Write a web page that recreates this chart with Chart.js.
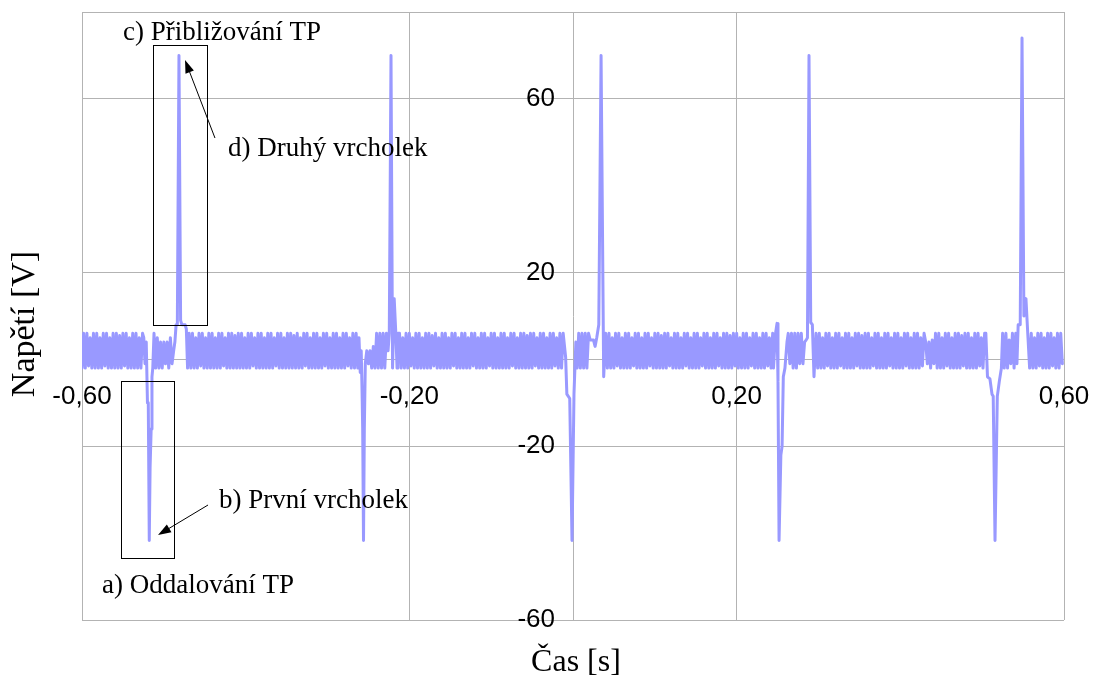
<!DOCTYPE html>
<html>
<head>
<meta charset="utf-8">
<script src="https://cdn.jsdelivr.net/npm/chart.js@4.4.0/dist/chart.umd.min.js"></script>
<style>
  body { margin: 0; background: #fff; }
  #wrap { width: 1093px; height: 680px; }
</style>
</head>
<body>
<div id="wrap"><canvas id="myChart" width="1093" height="680"></canvas></div>
<script>
// sampling step of the background ripple [s]
const sampleStep = 0.002;

// ripple between the pulses, one array per gap; first sample time of each gap
const noiseStart = [-0.600, -0.469, -0.212, 0.042, 0.299, 0.560];
const noiseA = [-2, 6, -2, 6, -1.5, 5, -2, 6, -2, 6, -2, 5, -2, 6, -1.5, 6,
                -2, 5, -2, 6, -2, 6, -2, 5.5, -2, 6, -1.5, 6, -2, 5, -2, 6,
                -2, 6, -2, 5, -2, 6];
const noiseB = [6, -2, 6, -2, 5, -2, 6, -1.5, 6, -2, 5, -2, 6, -2, 6, -2,
                5, -2, 6, -2, 6, -1.5, 5, -2, 6, -2, 6, -2, 5.5, -2, 6, -2,
                6, -2, 5, -2, 6, -2, 6, -1.5, 5, -2, 6, -2, 6, -2, 5, -2,
                6, -2, 6, -2, 5, -1.5, 6, -2, 6, -2, 5, -2, 6, -2, 6, -2,
                5.5, -2, 6, -2, 5, -2, 6, -1.5, 6, -2, 5, -2, 6, -2, 6, -2,
                5, -2, 6, -1.5, 6, -2, 5, -2, 6, -2, 6, -2, 5, -2, 6, -2,
                6, -1.5, 5, -2, 6, -2, 6, -2];
const noiseC = [6, -2, 5, -2, 6, -2, 6, -1.5, 5, -2, 6, -2, 6, -2, 5, -2,
                6, -2, 6, -2, 5.5, -1.5, 6, -2, 5, -2, 6, -2, 6, -2, 5, -2,
                6, -1.5, 6, -2, 5, -2, 6, -2, 6, -2, 5, -2, 6, -1.5, 6, -2,
                5, -2, 6, -2, 6, -2, 5, -1.5, 6, -2, 6, -2, 5, -2, 6, -2,
                6, -2, 5, -2, 6, -1.5, 6, -2, 5, -2, 6, -2, 6, -2, 5.5, -2,
                6, -2, 6, -1.5, 5, -2, 6, -2, 6, -2, 5, -2, 6, -2, 6, -1.5,
                5, -2, 6, -2, 6];
const noiseD = [-2, 6, -2, 5, -2, 6, -1.5, 6, -2, 5, -2, 6, -2, 6, -2, 5,
                -1.5, 6, -2, 6, -2, 5, -2, 6, -2, 6, -1.5, 5, -2, 6, -2, 6,
                -2, 5.5, -2, 6, -2, 6, -1.5, 5, -2, 6, -2, 6, -2, 5, -2, 6,
                -1.5, 6, -2, 5, -2, 6, -2, 6, -2, 5, -1.5, 6, -2, 6, -2, 5,
                -2, 6, -2, 6, -1.5, 5, -2, 6, -2, 6, -2, 5.5, -2, 6, -1.5, 6,
                -2, 5, -2, 6, -2, 6, -2, 5, -1.5, 6, -2, 6, -2, 5, -2, 6,
                -2, 6, -1.5, 5, -2, 6];
const noiseE = [-2, 6, -2, 5, -2, 6, -1.5, 6, -2, 5, -2, 6, -2, 6, -1.5, 5,
                -2, 6, -2, 6, -2, 5, -2, 6, -1.5, 6, -2, 5.5, -2, 6, -2, 6,
                -2, 5, -1.5, 6, -2, 6, -2, 5, -2, 6, -2, 6, -1.5, 5, -2, 6,
                -2, 6, -2, 5, -2, 6, -1.5, 6, -2, 5, -2, 6, -2, 6, -2, 5,
                -1.5, 6, 4, -1, 4, -2, 4.5, -1, 6, -2, 6, -2, 5, -2, 6, -1.5,
                6, -2, 5, -2, 6, -2, 6, -2, 5.5, -1.5, 6, -2, 6, -2, 5, -2,
                6, -2, 6, -1.5, 5, -2, 6];
const noiseF = [6, -2, 5, -2, 6, -1.5, 6, -2, 5, -2, 6, -2, 6, -1.5, 5, -2, 6, -2, 6, -1];

// the five pulse pairs: times [s] and voltages [V]
const pulse1T = [-0.5245, -0.5230, -0.5215, -0.5200, -0.5190, -0.5178, -0.5168, -0.5155, -0.5145, -0.5135,
                 -0.5120, -0.5100, -0.5080, -0.5060, -0.5040, -0.5020, -0.5000, -0.4980, -0.4960, -0.4940,
                 -0.4920, -0.4900, -0.4880, -0.4865, -0.4850, -0.4835, -0.4815, -0.4795, -0.4780, -0.4760,
                 -0.4740, -0.4725, -0.4710];
const pulse1V = [5, -1, 4, -10, -10, -41.7, -25, -16, -4, -2,
                 6, -2, 5, -2, 4, -2, 4, -1, 4, -2,
                 5, -1, 2, 4, 8, 8, 70, 9, 8, 8,
                 8, 7, -2];
const pulse2T = [-0.2615, -0.2600, -0.2588, -0.2578, -0.2570, -0.2560, -0.2550, -0.2538, -0.2520, -0.2500,
                 -0.2480, -0.2460, -0.2440, -0.2420, -0.2400, -0.2380, -0.2360, -0.2340, -0.2320, -0.2300,
                 -0.2280, -0.2260, -0.2245, -0.2224, -0.2205, -0.2185, -0.2165, -0.2150, -0.2140];
const pulse2V = [5, -3, 2, -7, -16, -41.7, -16, -1, 2, -1,
                 2, -2, 3, -2, 6, -2, 6, -2, 6, -2,
                 6, 2, 6, 70, -2, 14, 6, -2, 6];
const pulse3T = [-0.0110, -0.0090, -0.0075, -0.0040, -0.0012, 0.0012, 0.0035, 0.0050, 0.0070, 0.0090,
                 0.0110, 0.0130, 0.0150, 0.0170, 0.0190, 0.0210, 0.0230, 0.0250, 0.0270, 0.0290,
                 0.0315, 0.0343, 0.0375, 0.0400];
const pulse3V = [6, 0.5, -8, -9, -41.7, -8, 4, -2, 6, -2,
                 6, -2, 6, -2, 6, 4.5, 4.5, 4.5, 3, 5,
                 8, 70, -4, 6];
const pulse4T = [0.2450, 0.2475, 0.2493, 0.2505, 0.2518, 0.2540, 0.2555, 0.2570, 0.2590, 0.2615,
                 0.2630, 0.2650, 0.2670, 0.2690, 0.2710, 0.2730, 0.2750, 0.2770, 0.2790, 0.2810,
                 0.2830, 0.2850, 0.2865, 0.2884, 0.2905, 0.2925, 0.2945, 0.2970];
const pulse4V = [-2, 6, 8.3, -5, -41.7, -22, -20, -4, -2, 4,
                 6, -1, 6, -2, 6, -2, 6, -1, 6, -1,
                 4, 4.5, 5, 70, 8.5, 8, -4, 6];
const pulse5T = [0.5045, 0.5065, 0.5095, 0.5120, 0.5135, 0.5157, 0.5185, 0.5210, 0.5235, 0.5250,
                 0.5270, 0.5290, 0.5310, 0.5330, 0.5350, 0.5370, 0.5390, 0.5410, 0.5425, 0.5440,
                 0.5465, 0.5487, 0.5510, 0.5535, 0.5560, 0.5580];
const pulse5V = [6, -4, -4.5, -8, -8.5, -41.7, -8.5, -5, -2, 6,
                 -2, 6, -2, 4.5, -1, 6, -2, 6, -1, 8,
                 8, 74, 10, 14, 5, -2];

const xTicks = [-0.6, -0.2, 0.2, 0.6];
const yTicks = [-60, -20, 20, 60];

// build one sorted point list for the line
let points = [];
[noiseA, noiseB, noiseC, noiseD, noiseE, noiseF].forEach(function(arr, k) {
    arr.forEach(function(v, i) {
        points.push({x: noiseStart[k] + i * sampleStep, y: v});
    });
});
[[pulse1T, pulse1V], [pulse2T, pulse2V], [pulse3T, pulse3V], [pulse4T, pulse4V], [pulse5T, pulse5V]].forEach(function(p) {
    p[0].forEach(function(t, i) {
        points.push({x: t, y: p[1][i]});
    });
});
points.sort(function(a, b) { return a.x - b.x; });

const gridColor = '#b3b3b3';
const serif = '"Liberation Serif", "DejaVu Serif", serif';
const sans = '"Liberation Sans", Arial, sans-serif';

// y labels, boxes, arrows, notes and axis titles
const notes = {
    id: 'notes',
    afterDraw: function(chart) {
        const c = chart.ctx;
        const a = chart.chartArea;
        const px = function(v) { return chart.scales.x.getPixelForValue(v); };
        const py = function(v) { return chart.scales.y.getPixelForValue(v); };
        c.save();

        // top edge of the frame
        c.strokeStyle = gridColor;
        c.lineWidth = 1;
        c.beginPath();
        c.moveTo(a.left, Math.round(a.top) + 0.5);
        c.lineTo(a.right, Math.round(a.top) + 0.5);
        c.stroke();

        // y tick labels, left of the vertical axis at x = 0
        c.fillStyle = '#000';
        c.font = '26px ' + sans;
        c.textAlign = 'right';
        c.textBaseline = 'middle';
        yTicks.forEach(function(v) {
            c.fillText(String(v), px(0) - 18, py(v));
        });

        // boxes
        c.strokeStyle = '#000';
        function box(x1, x2, y1, y2) {
            const l = Math.round(px(x1)) + 0.5, r = Math.round(px(x2)) + 0.5;
            const t = Math.round(py(y1)) + 0.5, b = Math.round(py(y2)) + 0.5;
            c.strokeRect(l, t, r - l, b - t);
        }
        box(-0.5132, -0.4472, 72.4, 7.9);
        box(-0.5523, -0.4876, -5.0, -45.7);

        // arrows
        function arrow(x1, y1, x2, y2) {
            const sx = px(x1), sy = py(y1), ex = px(x2), ey = py(y2);
            const ang = Math.atan2(ey - sy, ex - sx);
            const len = 13, half = 4.5;
            c.beginPath();
            c.moveTo(sx, sy);
            c.lineTo(ex - Math.cos(ang) * len * 0.8, ey - Math.sin(ang) * len * 0.8);
            c.stroke();
            c.beginPath();
            c.moveTo(ex, ey);
            c.lineTo(ex - Math.cos(ang) * len - Math.sin(ang) * half, ey - Math.sin(ang) * len + Math.cos(ang) * half);
            c.lineTo(ex - Math.cos(ang) * len + Math.sin(ang) * half, ey - Math.sin(ang) * len - Math.cos(ang) * half);
            c.closePath();
            c.fillStyle = '#000';
            c.fill();
        }
        arrow(-0.4375, 50.98, -0.4741, 68.94);
        arrow(-0.4460, -33.52, -0.5071, -40.43);

        // note texts
        c.fillStyle = '#000';
        c.font = '27px ' + serif;
        c.textAlign = 'left';
        c.textBaseline = 'alphabetic';
        c.fillText('c) Přibližování TP', px(-0.5499), py(73.55));
        c.fillText('d) Druhý vrcholek', px(-0.4216), py(46.84));
        c.fillText('b) První vrcholek', px(-0.4326), py(-34.21));
        c.fillText('a) Oddalování TP', px(-0.5756), py(-53.78));

        // axis titles
        c.font = '32px ' + serif;
        c.textAlign = 'center';
        c.fillText('Čas [s]', (a.left + a.right) / 2 + 3, 671);
        c.font = '34px ' + serif;
        c.translate(34, 324);
        c.rotate(-Math.PI / 2);
        c.fillText('Napětí [V]', 0, 0);
        c.restore();
    }
};

const ctx = document.getElementById('myChart').getContext('2d');
const myChart = new Chart(ctx, {
    type: 'line',
    data: {
        datasets: [{
            data: points,
            borderColor: '#9999ff',
            borderWidth: 3,
            borderJoinStyle: 'round',
            borderCapStyle: 'round',
            pointRadius: 0,
            tension: 0,
            fill: false
        }]
    },
    options: {
        responsive: false,
        animation: false,
        layout: { padding: { left: 82, right: 29, top: 12, bottom: 60 } },
        plugins: {
            legend: { display: false },
            tooltip: { enabled: false }
        },
        scales: {
            x: {
                type: 'linear',
                position: { y: 0 },
                min: -0.6,
                max: 0.6,
                afterBuildTicks: function(s) { s.ticks = xTicks.map(function(v) { return {value: v}; }); },
                afterFit: function(s) { s.paddingLeft = 0; s.paddingRight = 0; },
                grid: { color: gridColor, drawTicks: false },
                border: { color: gridColor },
                ticks: {
                    padding: 22,
                    maxRotation: 0,
                    color: '#000',
                    font: { family: sans, size: 26 },
                    callback: function(v) { return v.toFixed(2).replace('.', ','); }
                }
            },
            y: {
                type: 'linear',
                position: { x: 0 },
                min: -60,
                max: 80,
                afterBuildTicks: function(s) { s.ticks = yTicks.map(function(v) { return {value: v}; }); },
                afterFit: function(s) { s.paddingTop = 0; s.paddingBottom = 0; },
                grid: { color: gridColor, drawTicks: false },
                border: { color: gridColor },
                ticks: { display: false }
            }
        }
    },
    plugins: [notes]
});
</script>
</body>
</html>
